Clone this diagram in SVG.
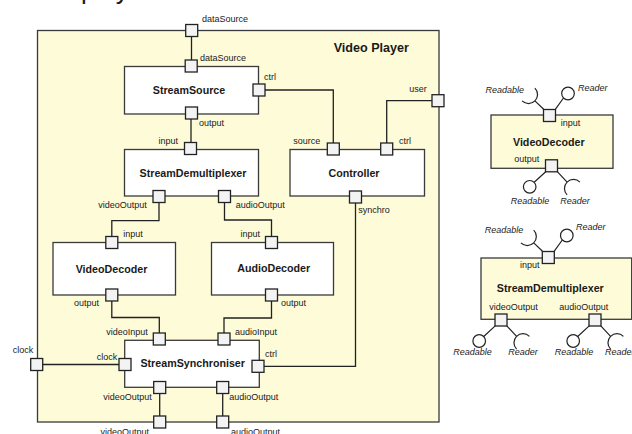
<svg xmlns="http://www.w3.org/2000/svg" width="632" height="434" viewBox="0 0 632 434">
<style>
.frame{fill:#fdfbd8;stroke:#3a3a3a;stroke-width:1.3}
.box{fill:#ffffff;stroke:#3a3a3a;stroke-width:1.3}
.cbox{fill:#fdfbd8;stroke:#3a3a3a;stroke-width:1.3}
.port{fill:#f3f3f3;stroke:#222;stroke-width:1.3}
.wire{fill:none;stroke:#222;stroke-width:1.3}
.lol{fill:none;stroke:#222;stroke-width:1.2}
.ball{fill:#fff;stroke:#222;stroke-width:1.2}
text{font-family:"Liberation Sans",Arial,sans-serif;fill:#1a1a1a}
.lbl{font-size:9px}
.name{font-size:10.7px;font-weight:bold;text-anchor:middle}
.it{font-size:9px;font-style:italic}
.e{text-anchor:end}
.m{text-anchor:middle}
</style>
<defs>
<rect id="p" x="-6" y="-6" width="12" height="12" class="port"/>
<g id="lolTop">
<path class="lol" d="M-5.8,-6.2 L-14.6,-14.6 M-14.6,-27.4 A9 9 0 0 1 -27.4,-14.6 M5.8,-6.2 L14,-17.5"/>
<circle class="ball" cx="18.5" cy="-22" r="6.3"/>
</g>
<g id="lolBot">
<path class="lol" d="M-5.8,5.9 L-17.3,16.5 M5.8,5.9 L15.6,16.3 M28.4,16.3 A9 9 0 0 0 15.6,29.1"/>
<circle class="ball" cx="-21.8" cy="21" r="6.3"/>
</g>
</defs>

<text x="81" y="-1.5" style="font-size:26px">player</text>

<g id="VideoPlayer">
<rect class="frame" x="37.5" y="30.5" width="401.5" height="391.5"/>
<text x="409" y="52" style="font-size:12.6px;font-weight:bold;text-anchor:end">Video Player</text>
</g>

<g id="connectors">
<path class="wire" d="M191.5,36 V60"/>
<path class="wire" d="M191,119 V142.5"/>
<path class="wire" d="M265,90 H333.3 V143"/>
<path class="wire" d="M432,100.7 H386.7 V143"/>
<path class="wire" d="M159,202.5 V220.7 H111.8 V236.5"/>
<path class="wire" d="M224.5,202.5 V220 H271.5 V236.5"/>
<path class="wire" d="M111.8,301 V317.5 H159.3 V333"/>
<path class="wire" d="M271.5,301 V318 H224 V333"/>
<path class="wire" d="M42.7,364.5 H119"/>
<path class="wire" d="M264,366.3 H355.5 V203"/>
<path class="wire" d="M159.7,393.5 V416"/>
<path class="wire" d="M222.7,393.5 V416"/>
</g>

<g id="StreamSource">
<rect class="box" x="124.5" y="66.5" width="134" height="47.5"/>
<text class="name" x="189" y="93.5">StreamSource</text>
</g>
<g id="StreamDemultiplexer">
<rect class="box" x="124.5" y="149.5" width="134" height="46.5"/>
<text class="name" x="193" y="176.5">StreamDemultiplexer</text>
</g>
<g id="Controller">
<rect class="box" x="290" y="149.5" width="134.5" height="46.5"/>
<text class="name" x="354" y="176.7">Controller</text>
</g>
<g id="VideoDecoder">
<rect class="box" x="53" y="242.5" width="122.5" height="52.5"/>
<text class="name" x="111.5" y="272.7">VideoDecoder</text>
</g>
<g id="AudioDecoder">
<rect class="box" x="211.5" y="242.5" width="122" height="52.5"/>
<text class="name" x="273.7" y="271.7">AudioDecoder</text>
</g>
<g id="StreamSynchroniser">
<rect class="box" x="124.7" y="340.3" width="134.6" height="47"/>
<text class="name" x="192.7" y="366.7">StreamSynchroniser</text>
</g>

<g id="ports">
<use href="#p" x="191.7" y="30.5"/>
<use href="#p" x="191.2" y="66"/>
<use href="#p" x="259" y="90"/>
<use href="#p" x="191.5" y="113"/>
<use href="#p" x="190.5" y="148.5"/>
<use href="#p" x="159" y="196.5"/>
<use href="#p" x="224.5" y="196.5"/>
<use href="#p" x="333.3" y="149"/>
<use href="#p" x="386.7" y="149"/>
<use href="#p" x="355.5" y="197"/>
<use href="#p" x="438" y="100.7"/>
<use href="#p" x="111.8" y="242.5"/>
<use href="#p" x="111.8" y="295"/>
<use href="#p" x="271.5" y="242.5"/>
<use href="#p" x="271.5" y="295"/>
<use href="#p" x="159.3" y="339"/>
<use href="#p" x="224" y="339"/>
<use href="#p" x="125" y="364.5"/>
<use href="#p" x="258" y="366.3"/>
<use href="#p" x="159.7" y="387.5"/>
<use href="#p" x="222.7" y="387.5"/>
<use href="#p" x="159.7" y="422"/>
<use href="#p" x="222.7" y="422"/>
<use href="#p" x="36.7" y="364.5"/>
</g>

<g id="portLabels">
<text class="lbl" x="202" y="21.5">dataSource</text>
<text class="lbl" x="200" y="61">dataSource</text>
<text class="lbl" x="264" y="80">ctrl</text>
<text class="lbl" x="199" y="125.7">output</text>
<text class="lbl e" x="178" y="144">input</text>
<text class="lbl e" x="146.7" y="208.3">videoOutput</text>
<text class="lbl" x="235.7" y="208.3">audioOutput</text>
<text class="lbl e" x="320.3" y="144">source</text>
<text class="lbl" x="399" y="144">ctrl</text>
<text class="lbl" x="358.3" y="213">synchro</text>
<text class="lbl e" x="426.7" y="92.3">user</text>
<text class="lbl" x="123.3" y="236.7">input</text>
<text class="lbl e" x="99" y="306">output</text>
<text class="lbl e" x="260" y="236.5">input</text>
<text class="lbl" x="281" y="306">output</text>
<text class="lbl e" x="147.7" y="335.3">videoInput</text>
<text class="lbl" x="235" y="334.5">audioInput</text>
<text class="lbl e" x="117.3" y="360.3">clock</text>
<text class="lbl" x="265" y="356.7">ctrl</text>
<text class="lbl e" x="151.7" y="400">videoOutput</text>
<text class="lbl" x="229.3" y="400">audioOutput</text>
<text class="lbl e" x="149" y="435">videoOutput</text>
<text class="lbl" x="231" y="435">audioOutput</text>
<text class="lbl" x="12.7" y="353.3">clock</text>
</g>

<g id="VideoDecoderType">
<rect class="cbox" x="491" y="115" width="122" height="53.3"/>
<text class="name" x="548.8" y="145.7">VideoDecoder</text>
<use href="#lolTop" x="549.5" y="115.5"/>
<use href="#p" x="549.5" y="115.5"/>
<use href="#lolBot" x="551.5" y="165.8"/>
<use href="#p" x="551.5" y="165.8"/>
<text class="lbl" x="560.7" y="125.7">input</text>
<text class="lbl" x="514.3" y="161.7">output</text>
<text class="it e" x="524" y="93.3">Readable</text>
<text class="it" x="578" y="90.7">Reader</text>
<text class="it m" x="530" y="204.3">Readable</text>
<text class="it m" x="575" y="204.3">Reader</text>
</g>

<g id="StreamDemultiplexerType">
<rect class="cbox" x="481" y="258" width="150.7" height="61.3"/>
<text class="name" x="550.3" y="292.3">StreamDemultiplexer</text>
<use href="#lolTop" x="548.3" y="257.5"/>
<use href="#p" x="548.3" y="257.5"/>
<use href="#lolBot" x="501" y="320"/>
<use href="#p" x="501" y="320"/>
<use href="#lolBot" x="595" y="320"/>
<use href="#p" x="595" y="320"/>
<text class="lbl" x="520" y="268.3">input</text>
<text class="lbl" x="489.3" y="310">videoOutput</text>
<text class="lbl" x="559.3" y="310">audioOutput</text>
<text class="it e" x="523.3" y="233.3">Readable</text>
<text class="it" x="576" y="230">Reader</text>
<text class="it m" x="472.5" y="355">Readable</text>
<text class="it m" x="523" y="355">Reader</text>
<text class="it m" x="574" y="355">Readable</text>
<text class="it" x="605" y="355">Reader</text>
</g>
</svg>
